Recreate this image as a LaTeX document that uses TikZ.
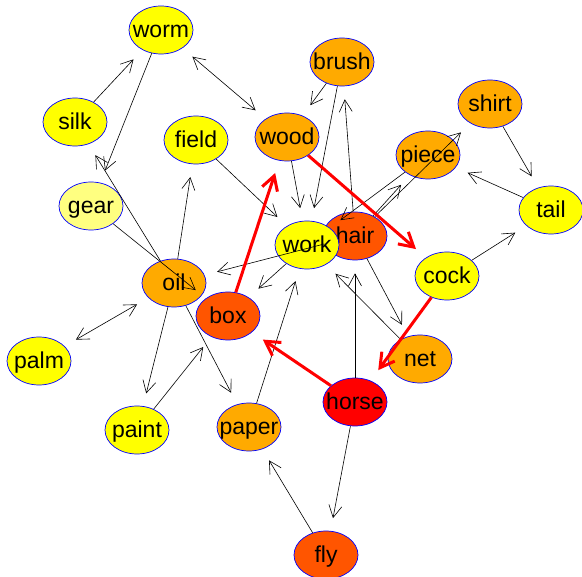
\documentclass[tikz,border=0pt]{standalone}
\usepackage{fontspec}
\setmainfont{Liberation Sans}
\usetikzlibrary{shapes.geometric,arrows.meta}
% zero-width label so the ellipse keeps its fixed size
\newcommand\vlabel[1]{\makebox[0pt]{#1}}
\definecolor{hot0}{HTML}{FF0000}
\definecolor{hot1}{HTML}{FF5500}
\definecolor{hot2}{HTML}{FFAA00}
\definecolor{hot3}{HTML}{FFFF00}
\definecolor{hot4}{HTML}{FFFF80}
\tikzset{
  vbarb/.tip={Straight Barb[length=12pt,width=13pt]},
  hbarb/.tip={Straight Barb[length=14pt,width=16pt]}
}
\begin{document}
\begin{tikzpicture}[x=1pt,y=-1pt,
  vtx/.style={ellipse, draw=blue, line width=0.7pt, minimum width=64pt,
    minimum height=48pt, inner sep=0pt, text height=16pt, text depth=0pt,
    font=\fontsize{23}{23}\selectfont},
  e/.style={draw=black, line width=0.6pt, -vbarb, shorten >=13pt},
  ee/.style={draw=black, line width=0.6pt, vbarb-vbarb,
    shorten >=13pt, shorten <=13pt},
  hotpath/.style={draw=red, line width=3pt, -hbarb, shorten >=13pt}]
\useasboundingbox (0,0) rectangle (582,577);

% vertices
\node[vtx, fill=hot3] (worm)  at (161,30)  {\vlabel{worm}};
\node[vtx, fill=hot3] (silk)  at (75,122)  {\vlabel{silk}};
\node[vtx, fill=hot3] (field) at (196,140) {\vlabel{field}};
\node[vtx, fill=hot4] (gear)  at (91,206)  {\vlabel{gear}};
\node[vtx, fill=hot2] (brush) at (342,62)  {\vlabel{brush}};
\node[vtx, fill=hot2] (shirt) at (490,104) {\vlabel{shirt}};
\node[vtx, fill=hot2] (wood)  at (287,137) {\vlabel{wood}};
\node[vtx, fill=hot2] (piece) at (428,155) {\vlabel{piece}};
\node[vtx, fill=hot3] (tail)  at (551,210) {\vlabel{tail}};
\node[vtx, fill=hot1] (hair)  at (355,236) {\vlabel{hair}};
\node[vtx, fill=hot3] (work)  at (307,245) {\vlabel{work}};
\node[vtx, fill=hot3] (cock)  at (447,276) {\vlabel{cock}};
\node[vtx, fill=hot2] (oil)   at (174,283) {\vlabel{oil}};
\node[vtx, fill=hot1] (box)   at (228,316) {\vlabel{box}};
\node[vtx, fill=hot3] (palm)  at (39,361)  {\vlabel{palm}};
\node[vtx, fill=hot2] (net)   at (420,359) {\vlabel{net}};
\node[vtx, fill=hot0] (horse) at (355,402) {\vlabel{horse}};
\node[vtx, fill=hot3] (paint) at (137,430) {\vlabel{paint}};
\node[vtx, fill=hot2] (paper) at (249,427) {\vlabel{paper}};
\node[vtx, fill=hot1] (fly)   at (326,555) {\vlabel{fly}};

% edges
\draw[e] (worm) -- (gear);
\draw[e] (silk) -- (worm);
\draw[ee] (worm) -- (wood);
\draw[e] (oil) -- (field);
\draw[e] (field) -- (work);
\draw[e] (wood) -- (work);
\draw[e] (brush) -- (wood);
\draw[e] (brush) -- (work);
\draw[e] (hair) -- (brush);
\draw[e] (horse) -- (hair);
\draw[e] (piece) -- (work);
\draw[e] (hair) -- (piece);
\draw[e] (hair) -- (shirt);
\draw[e] (shirt) -- (tail);
\draw[e] (tail) -- (piece);
\draw[e] (cock) -- (tail);
\draw[e] (hair) -- (net);
\draw[e] (net) -- (work);
\draw[e] (hair) -- (oil);
\draw[e] (work) -- (box);
\draw[e] (paper) -- (work);
\draw[ee] (oil) -- (palm);
\draw[e] (oil) -- (paint);
\draw[e] (paint) -- (box);
\draw[e] (oil) -- (paper);
\draw[e] (fly) -- (paper);
\draw[e] (horse) -- (fly);
\draw[e] (gear) -- (box);
\draw[e] (oil) -- (silk);

% highlighted cycle
\draw[hotpath] (box) -- (wood);
\draw[hotpath] (wood) -- (cock);
\draw[hotpath] (cock) -- (horse);
\draw[hotpath] (horse) -- (box);
\end{tikzpicture}
\end{document}
